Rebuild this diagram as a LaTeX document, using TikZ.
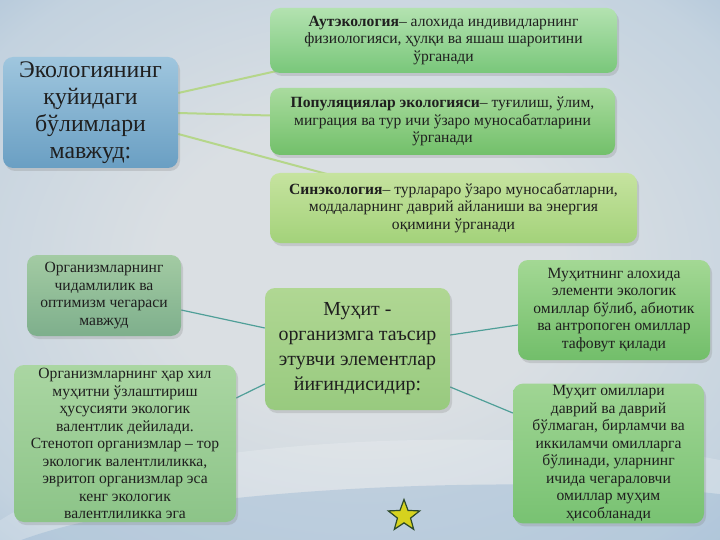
\documentclass[tikz,border=0pt]{standalone}
\usepackage{fontspec}
\setmainfont{Liberation Serif}
\usetikzlibrary{shapes.geometric,shadows}
\definecolor{bgin}{HTML}{DADFE3}
\definecolor{bgmid}{HTML}{C3D2DF}
\definecolor{bgout}{HTML}{8AADCD}
\definecolor{titletop}{HTML}{9FC6DE}
\definecolor{titlebot}{HTML}{6A9FC3}
\definecolor{autT}{HTML}{B3E2B0}
\definecolor{autB}{HTML}{79C77A}
\definecolor{popT}{HTML}{A9DB9E}
\definecolor{popB}{HTML}{72C06A}
\definecolor{synT}{HTML}{C6E39F}
\definecolor{synB}{HTML}{A3D27A}
\definecolor{cenT}{HTML}{B0D793}
\definecolor{cenB}{HTML}{98CA7F}
\definecolor{luT}{HTML}{A3CBA3}
\definecolor{luB}{HTML}{7EAF8C}
\definecolor{llT}{HTML}{AAD6A2}
\definecolor{llB}{HTML}{8CC488}
\definecolor{ruT}{HTML}{A3D894}
\definecolor{ruB}{HTML}{72BE6A}
\definecolor{rlT}{HTML}{A0D594}
\definecolor{rlB}{HTML}{78C272}
\definecolor{tlinec}{HTML}{B5D68A}
\definecolor{clinec}{HTML}{4F9F98}
\definecolor{starfill}{HTML}{D6D21E}
\definecolor{stardraw}{HTML}{2D4A2A}
\pgfdeclareradialshading{bgshade}{\pgfpoint{0bp}{0bp}}{color(0bp)=(bgin); color(14bp)=(bgin); color(32bp)=(bgmid); color(50bp)=(bgout)}
\pgfdeclarelayer{bglayer}
\pgfdeclarelayer{linelayer}
\pgfsetlayers{bglayer,linelayer,main}
\tikzset{
  box/.style={draw=none, rounded corners=10pt, align=center, inner sep=2pt, text=black!88,
    drop shadow={opacity=0.25, shadow xshift=2pt, shadow yshift=-3pt}},
  small/.style={font=\fontsize{15.6}{17.5}\selectfont},
  tline/.style={draw=tlinec, line width=2pt},
  cline/.style={draw=clinec, line width=1.2pt}
}
\begin{document}
\begin{tikzpicture}[x=1pt,y=-1pt]
\useasboundingbox (0,0) rectangle (720,540);
\begin{pgfonlayer}{bglayer}
\shade[shading=bgshade] (0,0) rectangle (720,540);
\fill[white, opacity=0.18] (-40,560) .. controls (40,420) and (600,420) .. (760,470) -- (760,560) -- cycle;
\fill[bgout, opacity=0.35] (-20,560) .. controls (100,480) and (600,470) .. (760,500) -- (760,560) -- cycle;
\end{pgfonlayer}

% nodes
\node[box, top color=titletop, bottom color=titlebot, minimum width=175pt, minimum height=111pt,
  font=\fontsize{23.8}{27}\selectfont] (title) at (90.5,112.5)
  {Экологиянинг\\қуйидаги\\бўлимлари\\мавжуд:};

\node[box, small, top color=autT, bottom color=autB, minimum width=347pt, minimum height=65pt] (aut) at (443.5,40.5)
  {\textbf{Аутэкология}– алохида индивидларнинг\\физиологияси, ҳулқи ва яшаш шароитини\\ўрганади};

\node[box, small, top color=popT, bottom color=popB, minimum width=345pt, minimum height=67pt] (pop) at (442.5,121.5)
  {\textbf{Популяциялар экологияси}– туғилиш, ўлим,\\миграция ва тур ичи ўзаро муносабатларини\\ўрганади};

\node[box, small, top color=synT, bottom color=synB, minimum width=367pt, minimum height=70pt] (syn) at (453.5,208)
  {\textbf{Синэкология}– турлараро ўзаро муносабатларни,\\моддаларнинг даврий айланиши ва энергия\\оқимини ўрганади};

\node[box, top color=cenT, bottom color=cenB, minimum width=185pt, minimum height=122pt,
  font=\fontsize{19.9}{25}\selectfont] (cen) at (357.5,349)
  {Муҳит -\\организмга таъсир\\этувчи элементлар\\йиғиндисидир:};

\node[box, small, top color=luT, bottom color=luB, minimum width=154pt, minimum height=81pt] (lu) at (104,295.5)
  {Организмларнинг\\чидамлилик ва\\оптимизм чегараси\\мавжуд};

\node[box, small, top color=llT, bottom color=llB, minimum width=222pt, minimum height=157pt] (ll) at (125,443.5)
  {Организмларнинг ҳар хил\\муҳитни ўзлаштириш\\ҳусусияти экологик\\валентлик дейилади.\\Стенотоп организмлар – тор\\экологик валентлиликка,\\эвритоп организмлар эса\\кенг экологик\\валентлиликка эга};

\node[box, small, top color=ruT, bottom color=ruB, minimum width=192pt, minimum height=100pt] (ru) at (614,310)
  {Муҳитнинг алохида\\элементи экологик\\омиллар бўлиб, абиотик\\ва антропоген омиллар\\тафовут қилади};

\node[box, small, top color=rlT, bottom color=rlB, minimum width=191pt, minimum height=137pt] (rl) at (608.5,453.5)
  {Муҳит омиллари\\даврий ва даврий\\бўлмаган, бирламчи ва\\иккиламчи омилларга\\бўлинади, уларнинг\\ичида чегараловчи\\омиллар муҳим\\ҳисобланади};

\node[star, star points=5, star point ratio=2.4, minimum size=33pt, inner sep=0pt,
  fill=starfill, draw=stardraw, line width=1.2pt] (star1) at (404,516) {};

% connectors (behind boxes)
\begin{pgfonlayer}{linelayer}
\draw[tline] ([yshift=19.5pt]title.east) -- ([xshift=6pt,yshift=2pt]aut.south west);
\draw[tline] ([yshift=-0.5pt]title.east) -- ([yshift=6pt]pop.west);
\draw[tline] ([yshift=-21.5pt]title.east) -- ([xshift=60pt,yshift=-2pt]syn.north west);
\draw[cline] ([yshift=-14.5pt]lu.east) -- ([yshift=21pt]cen.west);
\draw[cline] ([yshift=45.5pt]ll.east) -- ([yshift=-35pt]cen.west);
\draw[cline] ([yshift=14pt]cen.east) -- ([yshift=-15pt]ru.west);
\draw[cline] ([yshift=-38pt]cen.east) -- ([yshift=40.5pt]rl.west);
\end{pgfonlayer}
\end{tikzpicture}
\end{document}
